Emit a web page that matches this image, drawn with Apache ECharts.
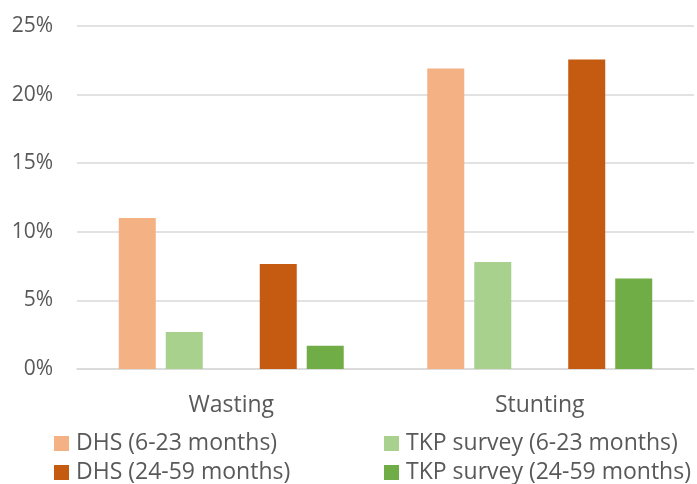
<!DOCTYPE html>
<html>
<head>
<meta charset="utf-8">
<script src="https://cdn.jsdelivr.net/npm/echarts@6/dist/echarts.min.js"></script>
<style>
html,body{margin:0;padding:0;background:#fff;}
#chart{width:697px;height:484px;}
</style>
</head>
<body>
<div id="chart"></div>
<script>
const categories = ['Wasting', 'Stunting'];
const dhs623 = [0.110, 0.219];
const tkp623 = [0.027, 0.078];
const dhs2459 = [0.0765, 0.2255];
const tkp2459 = [0.017, 0.066];
const yTicks = [0, 0.05, 0.10, 0.15, 0.20, 0.25];

const names = ['DHS (6-23 months)', 'TKP survey (6-23 months)', 'DHS (24-59 months)', 'TKP survey (24-59 months)'];
const colors = ['#F4B183', '#A9D18E', '#C55A11', '#70AD47'];
const FONT = '"Open Sans", sans-serif';
const TXT = '#595959';

function barSeries(name, data, color) {
  return {
    name: name, type: 'bar', data: data,
    barWidth: 37, barGap: '27%',
    itemStyle: { color: color },
    emphasis: { disabled: true }
  };
}

function legendItem(name, left, top) {
  return {
    data: [name], orient: 'horizontal', left: left, top: top, padding: 0,
    icon: 'rect', itemWidth: 15, itemHeight: 15, selectedMode: false,
    textStyle: { color: TXT, fontSize: 23, fontFamily: FONT, lineHeight: 20, padding: [0, 0, 0, 2] }
  };
}

const chart = echarts.init(document.getElementById('chart'), null, { renderer: 'canvas' });
chart.setOption({
  animation: false,
  backgroundColor: '#ffffff',
  textStyle: { fontFamily: FONT },
  grid: { left: 77, right: 3, top: 26, bottom: 115, containLabel: false },
  xAxis: {
    type: 'category', data: categories,
    axisLine: { show: true, lineStyle: { color: '#d9d9d9', width: 1.5 } },
    axisTick: { show: false },
    axisLabel: { color: TXT, fontSize: 23, fontFamily: FONT, margin: 25 }
  },
  yAxis: {
    type: 'value', min: yTicks[0], max: yTicks[yTicks.length - 1], interval: 0.05,
    axisLine: { show: false }, axisTick: { show: false },
    splitLine: { lineStyle: { color: '#d9d9d9', width: 1.5 } },
    axisLabel: {
      color: TXT, fontSize: 21, fontFamily: FONT, margin: 24,
      formatter: v => Math.round(v * 100) + '%'
    }
  },
  legend: [
    legendItem(names[0], 54, 432),
    legendItem(names[1], 384, 432),
    legendItem(names[2], 54, 461),
    legendItem(names[3], 384, 461)
  ],
  series: [
    barSeries(names[0], dhs623, colors[0]),
    barSeries(names[1], tkp623, colors[1]),
    barSeries('gap', [null, null], 'rgba(0,0,0,0)'),
    barSeries(names[2], dhs2459, colors[2]),
    barSeries(names[3], tkp2459, colors[3])
  ]
});
</script>
</body>
</html>
